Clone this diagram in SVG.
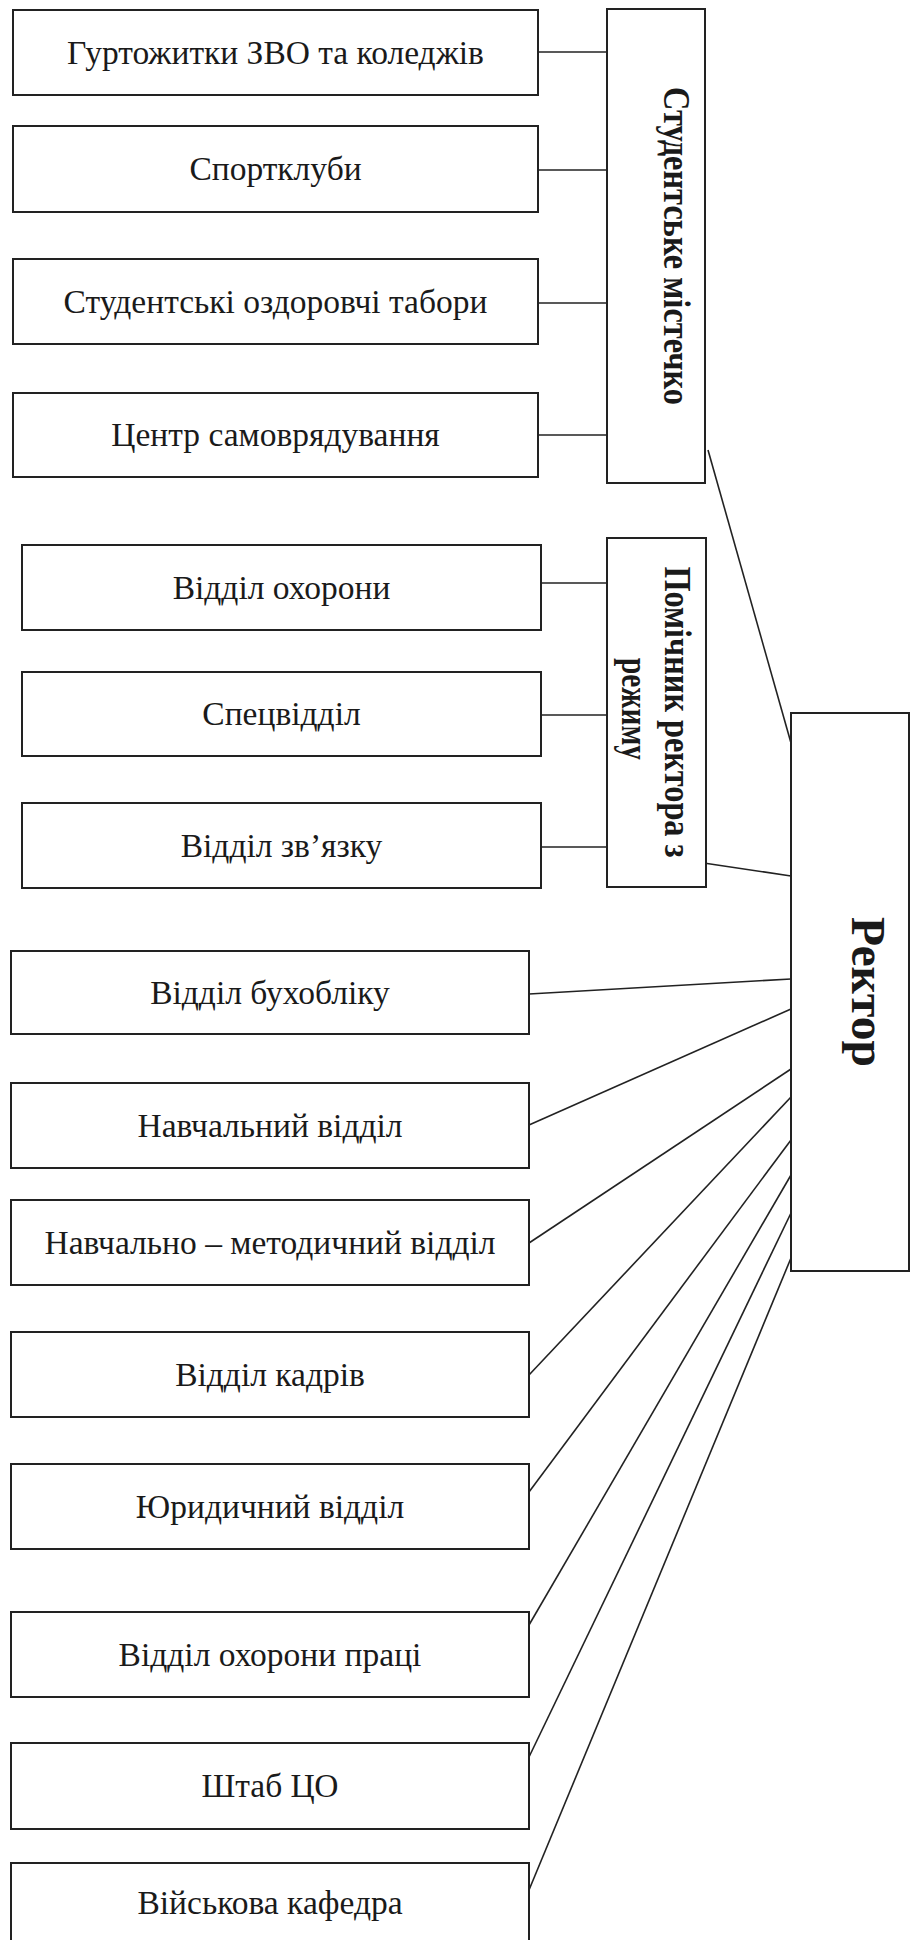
<svg xmlns="http://www.w3.org/2000/svg" width="916" height="1940" viewBox="0 0 916 1940">
<style>
.box{fill:#fff;stroke:#222;stroke-width:2}
.lbl{font-family:"Liberation Serif","Times New Roman",serif;font-size:33.5px;fill:#1a1a1a;text-anchor:middle}
.vl{font-family:"Liberation Serif","Times New Roman",serif;font-weight:bold;fill:#1a1a1a;text-anchor:middle}
.cn line{stroke:#222;stroke-width:1.6}
</style>
<rect width="916" height="1940" fill="#fff"/>
<g id="connectors" class="cn">
<line x1="538" y1="52" x2="607" y2="52"/>
<line x1="538" y1="170" x2="607" y2="170"/>
<line x1="538" y1="303" x2="607" y2="303"/>
<line x1="538" y1="435" x2="607" y2="435"/>
<line x1="541" y1="583" x2="607" y2="583"/>
<line x1="541" y1="715" x2="607" y2="715"/>
<line x1="541" y1="847" x2="607" y2="847"/>
<line x1="708" y1="450" x2="791" y2="743"/>
<line x1="697" y1="862" x2="791" y2="876"/>
<line x1="529" y1="994" x2="791" y2="979"/>
<line x1="529" y1="1125" x2="791" y2="1009"/>
<line x1="529" y1="1243" x2="791" y2="1069"/>
<line x1="529" y1="1375" x2="791" y2="1097"/>
<line x1="529" y1="1492" x2="791" y2="1140"/>
<line x1="529" y1="1625" x2="791" y2="1175"/>
<line x1="529" y1="1757" x2="791" y2="1213"/>
<line x1="529" y1="1890" x2="791" y2="1258"/>
</g>
<g id="n-gurt"><rect class="box" x="13" y="10" width="525" height="85"/><text class="lbl" x="275.5" y="63.5">Гуртожитки ЗВО та коледжів</text></g>
<g id="n-sport"><rect class="box" x="13" y="126" width="525" height="86"/><text class="lbl" x="275.5" y="180">Спортклуби</text></g>
<g id="n-tabory"><rect class="box" x="13" y="259" width="525" height="85"/><text class="lbl" x="275.5" y="312.5">Студентські оздоровчі табори</text></g>
<g id="n-centr"><rect class="box" x="13" y="393" width="525" height="84"/><text class="lbl" x="275.5" y="446">Центр самоврядування</text></g>
<g id="n-mistechko"><rect class="box" x="607" y="9" width="98" height="474"/><text class="vl" font-size="37" textLength="318" lengthAdjust="spacingAndGlyphs" transform="translate(664,246) rotate(90)">Студентське містечко</text></g>
<g id="n-okhorona"><rect class="box" x="22" y="545" width="519" height="85"/><text class="lbl" x="281.5" y="598.5">Відділ охорони</text></g>
<g id="n-spec"><rect class="box" x="22" y="672" width="519" height="84"/><text class="lbl" x="281.5" y="725">Спецвідділ</text></g>
<g id="n-zviazok"><rect class="box" x="22" y="803" width="519" height="85"/><text class="lbl" x="281.5" y="856.5">Відділ зв’язку</text></g>
<g id="n-pomichnyk"><rect class="box" x="607" y="538" width="99" height="349"/><text class="vl" font-size="37" textLength="291" lengthAdjust="spacingAndGlyphs" transform="translate(665,712) rotate(90)">Помічник ректора з</text><text class="vl" font-size="37" textLength="102" lengthAdjust="spacingAndGlyphs" transform="translate(622,709) rotate(90)">режиму</text></g>
<g id="n-rektor"><rect class="box" x="791" y="713" width="118" height="558"/><text class="vl" font-size="48" textLength="150" lengthAdjust="spacingAndGlyphs" transform="translate(852,992) rotate(90)">Ректор</text></g>
<g id="n-buh"><rect class="box" x="11" y="951" width="518" height="83"/><text class="lbl" x="270" y="1003.5">Відділ бухобліку</text></g>
<g id="n-navch"><rect class="box" x="11" y="1083" width="518" height="85"/><text class="lbl" x="270" y="1136.5">Навчальний відділ</text></g>
<g id="n-metod"><rect class="box" x="11" y="1200" width="518" height="85"/><text class="lbl" x="270" y="1253.5">Навчально – методичний відділ</text></g>
<g id="n-kadry"><rect class="box" x="11" y="1332" width="518" height="85"/><text class="lbl" x="270" y="1385.5">Відділ кадрів</text></g>
<g id="n-yur"><rect class="box" x="11" y="1464" width="518" height="85"/><text class="lbl" x="270" y="1517.5">Юридичний відділ</text></g>
<g id="n-ohpraci"><rect class="box" x="11" y="1612" width="518" height="85"/><text class="lbl" x="270" y="1665.5">Відділ охорони праці</text></g>
<g id="n-shtab"><rect class="box" x="11" y="1743" width="518" height="86"/><text class="lbl" x="270" y="1797">Штаб ЦО</text></g>
<g id="n-vijsk"><rect class="box" x="11" y="1863" width="518" height="86"/><text class="lbl" x="270" y="1914">Військова кафедра</text></g>
</svg>
